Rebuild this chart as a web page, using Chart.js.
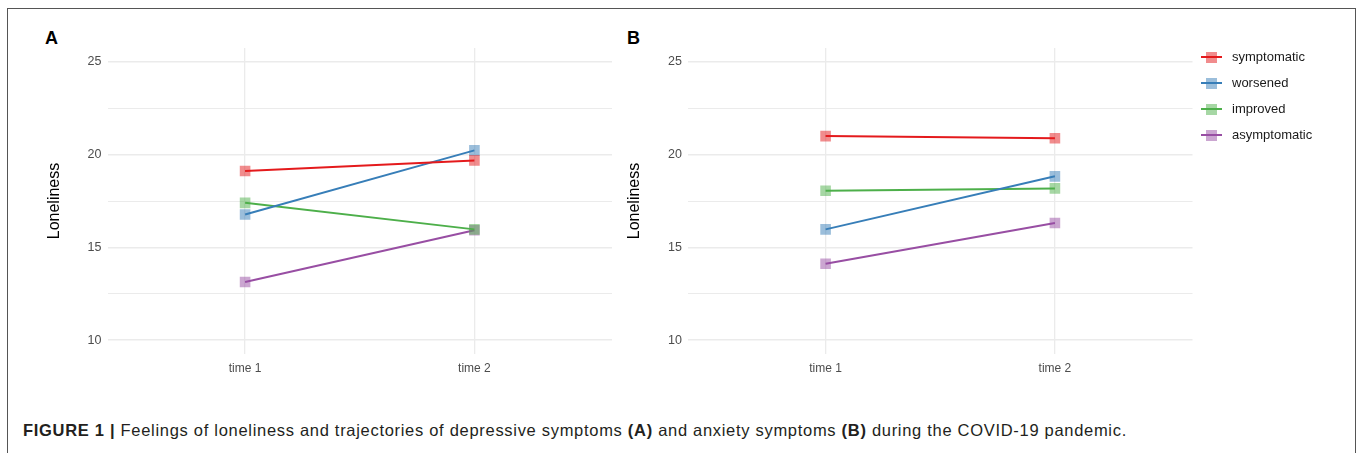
<!DOCTYPE html>
<html lang="en">
<head>
<meta charset="UTF-8">
<title>Loneliness trajectories</title>
<style>
    body { margin: 0; background: #fff; font-family: "Liberation Sans", Arial, sans-serif; }
    .frame { position: absolute; left: 7px; top: 8px; width: 1349px; height: 470px; border: 1px solid #555; box-sizing: border-box; }
    .panel { position: absolute; }
    .tag { position: absolute; font-weight: bold; font-size: 18px; color: #000; }
    .legend { position: absolute; left: 1195px; top: 44px; font-size: 13px; color: #1a1a1a; }
    .legend div { position: relative; height: 26px; line-height: 26px; padding-left: 37px; }
    .legend .ln { position: absolute; left: 6px; top: 12px; width: 21px; height: 2px; }
    .legend .sq { position: absolute; left: 11px; top: 8px; width: 11px; height: 11px; opacity: 0.5; }
    .caption { position: absolute; left: 23px; top: 421px; font-size: 16.5px; letter-spacing: 0.7px; color: #231f20; white-space: nowrap; }
</style>
</head>
<body>
<div class="frame"></div>
<div class="tag" style="left:45px; top:28px;">A</div>
<div class="tag" style="left:627px; top:28px;">B</div>
<div class="panel" style="left:20px; top:40px; width:600px; height:340px;"><canvas id="chartA" width="600" height="340"></canvas></div>
<div class="panel" style="left:600px; top:40px; width:600px; height:340px;"><canvas id="chartB" width="600" height="340"></canvas></div>
<div class="legend" id="legend"></div>
<div class="caption"><b>FIGURE 1 |</b> Feelings of loneliness and trajectories of depressive symptoms <b>(A)</b> and anxiety symptoms <b>(B)</b> during the COVID-19 pandemic.</div>

<script src="https://cdn.jsdelivr.net/npm/chart.js"></script>
<script>
const categories = ['time 1', 'time 2'];
const groups = ['symptomatic', 'worsened', 'improved', 'asymptomatic'];
const colors = ['#E41A1C', '#377EB8', '#4DAF4A', '#984EA3'];
const yTicks = [10, 15, 20, 25];

// panel A: depressive symptom groups
const depSymptomatic = [19.12, 19.69];
const depWorsened = [16.77, 20.23];
const depImproved = [17.40, 15.97];
const depAsymptomatic = [13.13, 15.92];

// panel B: anxiety symptom groups
const anxSymptomatic = [21.0, 20.88];
const anxWorsened = [15.97, 18.83];
const anxImproved = [18.05, 18.18];
const anxAsymptomatic = [14.12, 16.31];

function fade(hex, a) {
    const n = parseInt(hex.slice(1), 16);
    return `rgba(${n >> 16}, ${(n >> 8) & 255}, ${n & 255}, ${a})`;
}

function makeDatasets(series) {
    return series.map((vals, i) => ({
        label: groups[i],
        data: vals.map((v, j) => ({ x: j + 1, y: v })),
        borderColor: colors[i],
        borderWidth: 2,
        pointStyle: 'rect',
        pointRadius: 7.5,
        pointBorderWidth: 0,
        pointBackgroundColor: fade(colors[i], 0.5),
        pointHoverRadius: 7.5
    }));
}

function makeChart(id, series, yAxisWidth, padRight) {
    new Chart(document.getElementById(id), {
        type: 'line',
        data: { datasets: makeDatasets(series) },
        options: {
            responsive: false,
            animation: false,
            layout: { padding: { top: 8, right: padRight, bottom: 0, left: 0 } },
            plugins: { legend: { display: false }, tooltip: { enabled: false } },
            scales: {
                x: {
                    type: 'linear',
                    min: 0.4,
                    max: 2.6,
                    afterBuildTicks: s => { s.ticks = categories.map((c, i) => ({ value: i + 1 })); },
                    afterFit: s => { s.height = 26; s.paddingLeft = 0; s.paddingRight = 0; },
                    ticks: {
                        callback: v => categories[v - 1],
                        color: '#4d4d4d',
                        font: { family: '"Liberation Sans", Arial', size: 12 },
                        padding: 7,
                        maxRotation: 0
                    },
                    grid: { color: '#ebebeb', lineWidth: 1.3, drawTicks: false },
                    border: { display: false }
                },
                y: {
                    min: 9.25,
                    max: 25.75,
                    afterBuildTicks: s => {
                        const t = [];
                        for (let v = yTicks[0]; v <= yTicks[yTicks.length - 1]; v += 2.5) t.push({ value: v });
                        s.ticks = t;
                    },
                    afterFit: s => { s.width = yAxisWidth; s.paddingTop = 0; s.paddingBottom = 0; },
                    ticks: {
                        callback: v => (yTicks.includes(v) ? String(v) : ''),
                        color: '#4d4d4d',
                        font: { family: '"Liberation Sans", Arial', size: 12.5 },
                        padding: 6
                    },
                    grid: {
                        color: '#ebebeb',
                        lineWidth: ctx => (yTicks.includes(ctx.tick.value) ? 1.5 : 1),
                        drawTicks: false
                    },
                    border: { display: false },
                    title: {
                        display: true,
                        text: 'Loneliness',
                        color: '#000',
                        font: { family: '"Liberation Sans", Arial', size: 16 },
                        padding: { top: 25, bottom: 0 }
                    }
                }
            }
        }
    });
}

makeChart('chartA', [depSymptomatic, depWorsened, depImproved, depAsymptomatic], 87.5, 8);
makeChart('chartB', [anxSymptomatic, anxWorsened, anxImproved, anxAsymptomatic], 88, 7);

// legend beside panel B
const legend = document.getElementById('legend');
groups.forEach((g, i) => {
    const row = document.createElement('div');
    row.innerHTML = `<span class="ln" style="background:${colors[i]}"></span><span class="sq" style="background:${colors[i]}"></span>${g}`;
    legend.appendChild(row);
});
</script>
</body>
</html>
